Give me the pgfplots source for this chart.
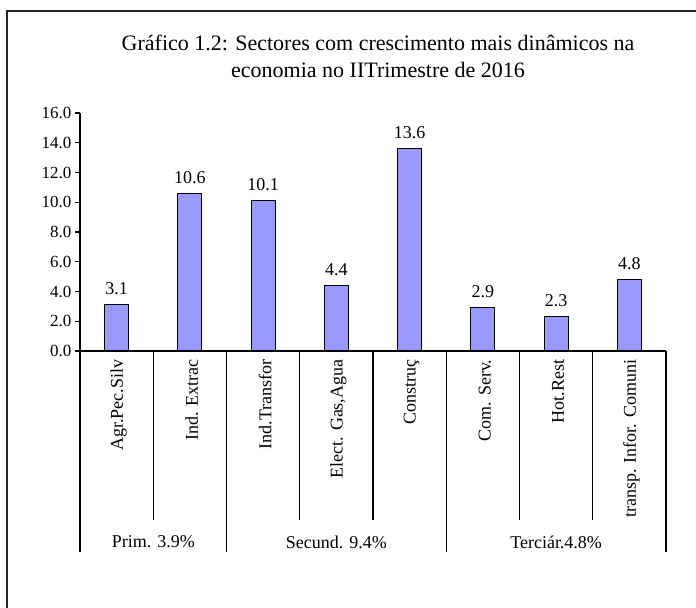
\documentclass[border=0pt]{standalone}
\usepackage{fontspec}
\setmainfont{Liberation Serif}
\usepackage{pgfplots}
\pgfplotsset{compat=1.18}
\definecolor{barblue}{HTML}{9999FF}
\begin{document}
\begin{tikzpicture}
\path[use as bounding box] (0bp,0bp) rectangle (696bp,608bp);
\draw[line width=1.5bp, black!85] (7bp,0bp) -- (7bp,597bp) -- (696bp,597bp);
\node[font=\fontsize{22bp}{27bp}\selectfont, align=center] at (378bp,551.5bp)
  {Gráfico 1.2: Sectores com crescimento mais dinâmicos na\\economia no IITrimestre de 2016};
\begin{axis}[
  at={(80bp,257bp)}, anchor=south west,
  scale only axis, width=586bp, height=238bp,
  xmin=-0.5, xmax=7.5, ymin=0, ymax=16,
  axis x line=bottom, axis y line=left,
  axis line style={-, line width=1.2bp, black},
  ytick={0,2,...,16},
  tick align=outside, major tick length=5bp,
  y tick style={line width=1.2bp, black},
  x tick style={draw=none},
  /pgf/number format/assume math mode=true,
  yticklabel style={font=\fontsize{17bp}{20bp}\selectfont, /pgf/number format/fixed, /pgf/number format/fixed zerofill, /pgf/number format/precision=1},
  xtick={0,...,7},
  xticklabels={Agr.Pec.Silv, Ind. Extrac, Ind.Transfor, {Elect. Gas,Agua}, Construç, Com. Serv., Hot.Rest, transp. Infor. Comuni},
  xticklabel style={rotate=90, anchor=east, font=\fontsize{18bp}{20bp}\selectfont, yshift=-2bp},
  clip=false,
]
\addplot[ybar, bar width=24bp, fill=barblue, draw=black, line width=1bp,
  nodes near coords,
  nodes near coords style={font=\fontsize{18bp}{20bp}\selectfont, /pgf/number format/fixed, /pgf/number format/fixed zerofill, /pgf/number format/precision=1, yshift=6bp}]
  coordinates {(0,3.1) (1,10.6) (2,10.1) (3,4.4) (4,13.6) (5,2.9) (6,2.3) (7,4.8)};
\pgfplotsinvokeforeach{0.5,2.5,3.5,5.5,6.5}{
  \draw[line width=1.2bp] (axis cs:#1,0) -- ([yshift=-169bp]axis cs:#1,0);
}
\pgfplotsinvokeforeach{-0.5,1.5,4.5,7.5}{
  \draw[line width=1.2bp] (axis cs:#1,0) -- ([yshift=-201bp]axis cs:#1,0);
}
\node[font=\fontsize{18bp}{20bp}\selectfont] at ([yshift=-191bp]axis cs:0.5,0) {Prim. 3.9\%};
\node[font=\fontsize{18bp}{20bp}\selectfont] at ([yshift=-191bp]axis cs:3,0) {Secund. 9.4\%};
\node[font=\fontsize{18bp}{20bp}\selectfont] at ([yshift=-191bp]axis cs:6,0) {Terciár.4.8\%};
\end{axis}
\end{tikzpicture}
\end{document}
